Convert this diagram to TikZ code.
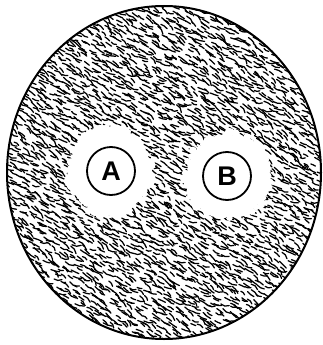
\documentclass[tikz,border=0pt]{standalone}
\usepackage{fontspec}
\setsansfont{Liberation Sans}
\usetikzlibrary{positioning,calc}

\tikzset{
  grain/.style={line width=1.25pt,line cap=round,line join=round},
  letter ring/.style={circle,draw,line width=1.8pt,minimum size=48pt,inner sep=0pt,
    font=\fontsize{27}{27}\selectfont\sffamily\bfseries}
}

\begin{document}
\begin{tikzpicture}[x=1pt,y=-1pt]
  \useasboundingbox (0,0) rectangle (323,345);
  \pgfmathsetseed{42}
  % grainy fill of the dish
  \begin{scope}
    \clip (164,172.5) ellipse [x radius=157,y radius=166.5];
    \foreach \i in {0,...,54}{
      \foreach \j in {0,...,64}{
        \pgfmathsetmacro\px{6*\i+3*rand}
        \pgfmathsetmacro\py{5.4*\j+2.7*rand}
        \pgfmathsetmacro\ang{32+15*rand}
        \pgfmathsetmacro\len{2.5+2.5*rnd}
        \draw[grain] (\px,\py) -- ++(\ang:\len) -- ++({\ang+35*rand}:\len);
      }
    }
  \end{scope}
  % clear zones, ragged rims
  \fill[white] (110,171) ellipse [x radius=40,y radius=43];
  \fill[white] (228,176) ellipse [x radius=41,y radius=41];
  \foreach \k in {0,...,44}{
    \pgfmathsetmacro\ra{40+3*rand}
    \pgfmathsetmacro\rb{41+3*rand}
    \fill[white] ({110+\ra*cos(\k*8)},{171+1.07*\ra*sin(\k*8)}) circle ({3+2*rnd});
    \fill[white] ({228+\rb*cos(\k*8)},{176+\rb*sin(\k*8)}) circle ({3+2*rnd});
  }
  \draw[line width=2pt] (164,172.5) ellipse [x radius=157,y radius=166.5];
  \node[letter ring] (a) at (111,171) {A};
  \node[letter ring] (b) at (227,176) {B};
\end{tikzpicture}
\end{document}
